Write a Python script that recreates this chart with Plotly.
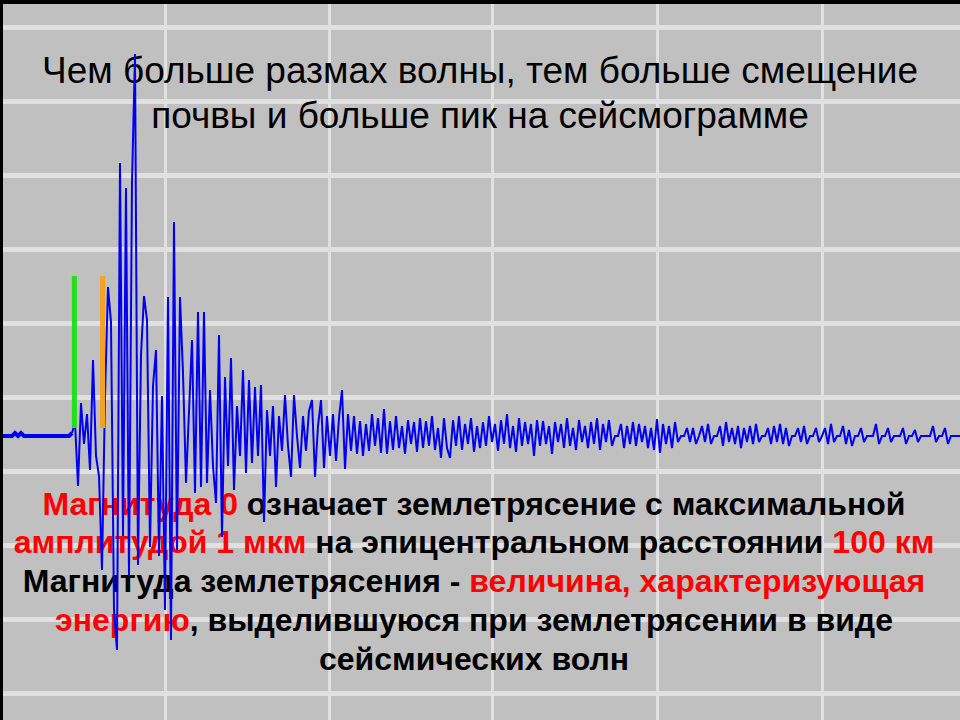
import numpy as np
import plotly.graph_objects as go

# seismogram amplitude, one sample every step (upward positive, baseline 0)
quiet = [0, 0, 0, 0, 3, 0, 3, 0, 0, 0,
         0, 0, 0, 0, 0, 0, 0, 0, 0, 0,
         0, 0, 0]
onset = [3, 14, -50, 33, -8, 22, -34,
         76, -20, -40, -134, 40, 149, 114, -174, -214, 273,
         -100, 248, -140, 253, 382, -129, 81, 140, 116, -111,
         50, 86, -120, 40, -174, 139, -204, 214, -114, 139,
         63, -47, 30, 96, -57, 124, -51, 124, -47, 46,
         -30, -67, 101, -101, 59, -30, 78, -54, 30, -20,
         66, -37, 56, -27, 49, -20, 51, -86, 26, -20,
         30, -51, 20, -15, 41, -10, -41, 41, 0, -32,
         20, -15, 25, 36, -41, 10, 36, -32, 20, -20,
         22, -25, 18, 46, -33, 22, -15, 20, -18, 15]
coda_early = [-20, 12, -15, 22, -10, 18, -17, 27, -18, 15,
              -14, 20, -12, 10, -18, 16, -8, 14, -16, 18,
              -12, 15, -10, 20, -14, 8, -22, 18, -12, -22,
              16, -10, 20, -14, 12, -8, 18, -16, 10, -12,
              14, -10, 20, -6, 12, -15, 16, -8, 22, -12,
              10, -16, 18, -10, 14, -8, 12, -20, 16, -10,
              15, -8, 10, -18, 14, -6, 12, -12, 18, -10,
              8, -14, 16, -6, 10, -12, 14, -8, 18, -14,
              12, -6, 16, -10, 0, 0, 12, -12, 10, -8]
coda_late = [14, -10, 12, -6, 10, -12, 8, -14, 17, -17,
             12, -8, 10, -12, 14, -6, 0, 0, 8, -6,
             8, -8, 0, 10, -6, 12, -8, 0, 0, 10,
             -10, 14, -6, 8, -8, 10, -12, 8, -6, 10,
             -8, 12, -6, 0, 0, 8, -8, 10, -6, 12,
             -8, 8, -10, 0, 0, 8, -6, 10, -8, 0,
             0, 8, -6, 0, 8, -8, 12, -6, 0, 0,
             10, -8, 6, -10, 0, 0, 8, -6, 0, 0,
             0, 12, -8, 0, 0, 8, -6, 0, 0, 0,
             8, -8, 0, 0, 6, -6, 0, 0, 0, 0,
             10, -6, 0, 0, 8, -8, 0, 0, 0, 0]

p_arrival = 23.8      # green mark
s_arrival = 33.2      # orange mark
mark_range = [8, 160]

grid_t = [54, 108.7, 163.3, 218, 273]

RED = "#FF0000"
title_lines = [
    "Чем больше размах волны, тем больше смещение",
    "почвы и больше пик на сейсмограмме",
]
body_lines = [
    f"<span style='color:{RED}'>Магнитуда 0</span> означает землетрясение с максимальной",
    f"<span style='color:{RED}'>амплитудой 1 мкм</span> на эпицентральном расстоянии <span style='color:{RED}'>100 км</span>",
    f"Магнитуда землетрясения - <span style='color:{RED}'>величина, характеризующая</span>",
    f"<span style='color:{RED}'>энергию</span>, выделившуюся при землетрясении в виде",
    "сейсмических волн",
]
title_y = [362, 317]
body_y = [-71, -109, -148, -187, -226]

signal = quiet + onset + coda_early + coda_late
t = np.arange(len(signal))
n_quiet = len(quiet)

fig = go.Figure()

# text first so the trace is drawn over it, as on the slide
fig.add_trace(go.Scatter(
    x=[159] * len(title_lines), y=title_y, mode="text", text=title_lines,
    textposition="middle center",
    textfont=dict(family="Liberation Sans, Arial, sans-serif", size=37, color="black"),
    hoverinfo="skip",
))
fig.add_trace(go.Scatter(
    x=[157] * len(body_lines), y=body_y, mode="text",
    text=["<b>" + s + "</b>" for s in body_lines],
    textposition="middle center",
    textfont=dict(family="Liberation Sans, Arial, sans-serif", size=32, color="black"),
    hoverinfo="skip",
))

fig.add_trace(go.Scatter(
    x=t[:n_quiet + 1], y=signal[:n_quiet + 1], mode="lines",
    line=dict(color="#0000F0", width=4), hoverinfo="skip",
))
fig.add_trace(go.Scatter(
    x=t[n_quiet:], y=signal[n_quiet:], mode="lines",
    line=dict(color="#0000F0", width=2), hoverinfo="skip",
))

fig.add_trace(go.Scatter(
    x=[p_arrival, p_arrival], y=mark_range, mode="lines",
    line=dict(color="#22E01E", width=5), hoverinfo="skip",
))
fig.add_trace(go.Scatter(
    x=[s_arrival, s_arrival], y=mark_range, mode="lines",
    line=dict(color="#F5A21E", width=5), hoverinfo="skip",
))

fig.update_layout(
    width=960, height=720,
    margin=dict(l=3, r=0, t=4, b=0),
    paper_bgcolor="black",
    plot_bgcolor="#C0C0C0",
    showlegend=False,
    xaxis=dict(range=[0, 319], showgrid=True, gridcolor="#E0E0E0", gridwidth=3,
               tickvals=grid_t, showticklabels=False, ticks="", zeroline=False,
               fixedrange=True),
    yaxis=dict(range=[-284, 432], showgrid=True, gridcolor="#E0E0E0", gridwidth=5,
               tick0=39, dtick=74, showticklabels=False, ticks="", zeroline=False,
               fixedrange=True),
)

fig.write_html("out.html", config={"displayModeBar": False},
               post_script="document.body.style.margin='0';")
